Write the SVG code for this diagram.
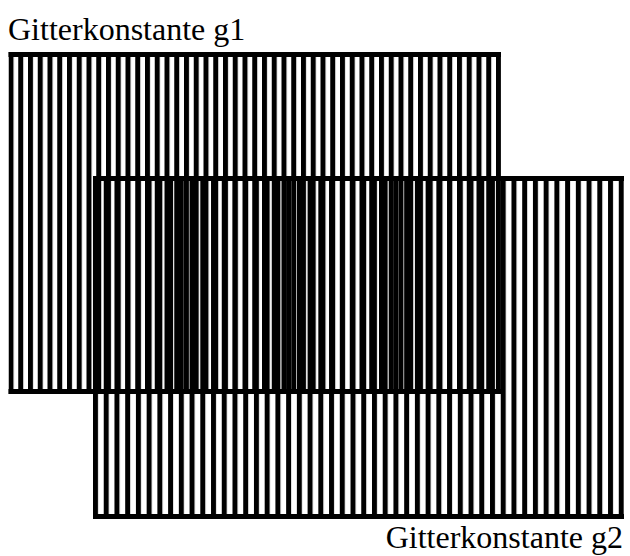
<svg xmlns="http://www.w3.org/2000/svg" width="630" height="556" viewBox="0 0 630 556">
  <style>
    .lbl { font-family: "Liberation Serif", "Times New Roman", serif; font-size: 32px; fill: #000; }
    .bar { fill: #000; }
  </style>
  <defs>
    <pattern id="p1" patternUnits="userSpaceOnUse" x="8.5" y="0" width="9.75" height="556">
      <rect x="0" y="0" width="5" height="556" fill="#000"/>
    </pattern>
    <pattern id="p2" patternUnits="userSpaceOnUse" x="93" y="0" width="10.73" height="556">
      <rect x="0" y="0" width="5" height="556" fill="#000"/>
    </pattern>
  </defs>
  <rect width="630" height="556" fill="#fff"/>
  <g id="grating-g2">
    <rect x="93" y="176" width="531" height="343" fill="url(#p2)"/>
    <rect class="bar" x="93" y="176" width="531" height="5"/>
    <rect class="bar" x="93" y="514" width="531" height="5"/>
  </g>
  <g id="grating-g1">
    <rect x="8.5" y="52" width="492.5" height="342" fill="url(#p1)"/>
    <rect class="bar" x="8.5" y="52" width="492.5" height="5"/>
    <rect class="bar" x="8.5" y="389" width="492.5" height="5"/>
  </g>
  <g id="label-g1">
    <text class="lbl" x="8" y="40">Gitterkonstante g1</text>
  </g>
  <g id="label-g2">
    <text class="lbl" x="623" y="548" text-anchor="end">Gitterkonstante g2</text>
  </g>
</svg>
